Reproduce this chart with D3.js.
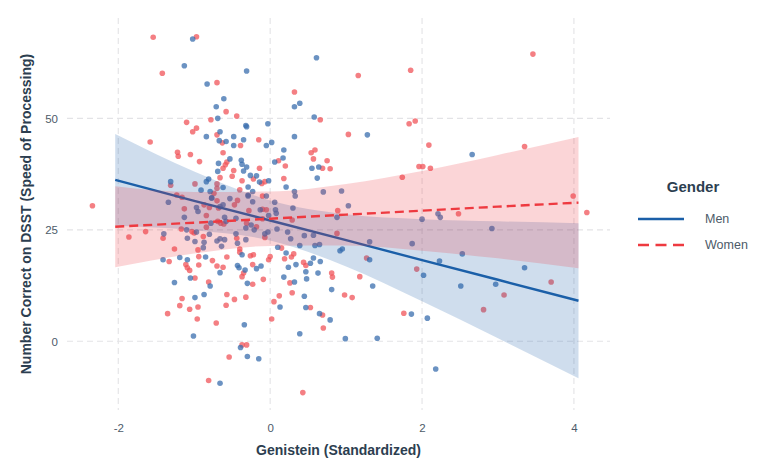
<!DOCTYPE html>
<html><head><meta charset="utf-8">
<script src="https://cdn.jsdelivr.net/npm/d3@7"></script>
<style>
html,body{margin:0;padding:0;background:#fff;}
svg{display:block;font-family:"Liberation Sans",Arial,Helvetica,sans-serif;}
</style></head>
<body><svg id="chart" width="757" height="465"></svg>
<script>
// ---- data ----
const xTicks = [-2, 0, 2, 4];
const yTicks = [0, 25, 50];
const groups = ["Men", "Women"];

const menX = [-1.02,-1.13,-0.31,-0.83,-0.61,-0.71,-0.69,-0.32,-0.31,-0.66,-0.84,-0.48,-0.35,-0.67,-0.58,-0.48,-0.68,-0.53,-0.38,-0.37,-0.31,-0.69,-0.35,-0.26,-0.18,-1.31,-0.84,-0.81,-0.62,-0.91,-0.79,-0.29,-0.23,-0.29,-0.77,-0.53,
 -1.34,-0.97,-0.95,-0.77,-0.66,-0.62,-0.29,-0.23,-0.13,-1.13,-0.60,-0.45,-0.58,-0.78,-0.25,-0.32,-0.21,-1.10,-0.97,-1.40,-1.09,-0.99,-0.80,-0.66,-0.60,-0.70,-0.45,-0.32,-0.87,-0.43,-0.64,-0.88,-0.37,-0.85,-1.41,-1.19,-1.09,-0.66,-0.43,-0.41,-0.33,-0.18,-1.05,-1.26,-0.79,-0.30,-0.99,-0.87,-0.34,-1.01,-0.39,-0.30,-0.15,-0.66,
 0.61,0.32,0.39,0.58,-0.03,1.28,0.32,0.02,-0.05,0.18,0.17,0.06,0.55,0.64,0.62,-0.02,-0.14,0.21,0.32,0.33,0.70,0.94,-0.05,
 0.06,0.07,0.30,1.03,-0.02,0.08,0.88,2.00,2.21,0.09,0.23,-0.07,-0.03,0.27,0.45,0.57,1.31,1.87,0.39,0.59,0.65,0.10,0.92,0.95,1.31,2.02,0.21,0.57,0.66,0.53,0.34,0.24,-0.12,0.47,0.63,0.18,0.48,0.32,1.35,0.81,0.45,0.13,0.47,0.65,0.79,0.39,0.99,1.41,1.86,2.07,2.18,
 2.66,2.24,2.92,2.53,2.51,2.97,3.35,2.23];
const menY = [67.8,61.8,60.6,57.7,54.4,52.6,50.0,48.4,48.1,47.0,45.9,45.9,45.2,45.0,44.8,43.9,39.9,40.9,40.6,39.7,39.1,38.1,38.2,37.2,37.1,35.8,35.8,36.4,34.5,33.9,33.6,34.6,33.6,32.8,32.1,32.0,
 31.2,30.0,29.1,32.2,30.2,30.6,32.6,31.3,29.5,27.8,27.8,27.6,26.9,26.5,26.1,25.4,25.0,25.0,24.5,24.1,23.1,22.4,24.0,23.0,22.8,22.5,24.1,22.8,22.2,22.0,21.3,21.0,19.4,18.9,18.3,18.8,18.3,15.4,17.0,16.5,16.0,16.3,14.2,13.2,12.4,13.0,9.8,10.5,3.7,1.2,-1.4,-3.4,-3.9,-9.4,
 63.6,52.6,53.4,50.3,48.8,46.3,45.9,44.6,43.9,42.9,41.1,40.2,38.8,39.1,36.6,36.0,35.7,34.6,33.6,32.6,33.5,33.7,32.6,
 31.2,29.5,29.9,30.4,28.2,28.7,27.8,27.4,28.6,25.2,24.5,24.1,24.5,23.0,23.7,23.8,22.3,21.9,21.5,21.5,21.7,21.1,20.3,20.7,18.3,14.8,19.8,18.7,17.9,17.5,17.2,16.6,16.9,15.6,15.3,14.4,14.0,13.3,12.4,11.6,10.1,7.7,7.6,6.2,4.8,1.7,0.6,0.7,6.1,5.2,-6.2,
 41.9,27.8,25.3,19.6,12.4,12.8,16.5,18.0];

const womenX = [-1.54,-0.97,-1.42,-0.70,-0.58,-0.44,-0.78,-1.10,-0.97,-1.02,-0.70,-0.63,-1.58,-0.39,-0.15,-1.22,-1.21,-1.05,-0.62,-0.93,-0.57,-0.59,-0.62,-0.48,-0.50,-0.66,-0.22,-0.37,-1.31,-0.99,-0.70,-0.74,-0.70,-0.40,-1.23,-1.16,
 -2.34,-1.13,-0.87,-0.70,-0.80,-0.68,-0.47,-0.43,-0.28,-0.84,-0.69,-0.65,-0.61,-0.84,-0.31,-0.18,-1.17,-1.03,-1.00,-1.64,-1.86,-1.41,-0.88,-0.44,-0.95,-1.26,-0.40,-0.40,-0.26,-0.22,-0.94,-0.57,-1.33,-1.11,-1.09,-1.06,-0.94,-0.76,-0.70,-0.62,-0.35,-0.37,-0.23,-0.99,-0.81,-0.23,-1.16,-0.57,-0.47,-0.32,-1.19,-1.06,-0.95,-0.58,-1.35,-0.96,-0.71,-0.37,-0.31,-0.54,-0.81,0.43,
 1.16,1.85,0.32,0.66,1.83,1.91,1.03,2.09,0.54,0.59,0.57,0.11,0.20,0.75,0.69,0.79,-0.14,1.96,2.01,2.11,1.74,0.18,-0.07,-0.11,-0.10,
 -0.10,-0.05,0.89,0.29,-0.10,-0.07,0.88,0.15,1.27,1.93,0.31,0.28,0.19,0.00,-0.02,0.44,0.47,0.81,0.82,1.18,-0.09,0.26,0.29,0.98,1.08,0.12,0.05,0.53,0.69,0.02,0.70,1.76,
 3.35,3.46,2.48,3.99,4.17,3.08,3.70,2.81];
const womenY = [68.2,68.3,60.1,58.0,51.5,50.5,49.7,49.1,47.8,47.0,46.3,44.5,44.7,43.9,45.2,42.4,41.5,41.9,42.3,40.3,40.2,39.6,38.8,38.3,37.0,36.7,36.4,36.0,35.0,35.3,35.3,33.2,34.3,34.0,32.8,32.3,
 30.4,29.7,30.6,31.5,30.0,29.9,30.6,31.6,29.3,28.2,26.9,26.5,26.3,25.6,26.5,25.7,25.2,24.6,24.3,24.6,23.4,23.1,23.5,23.1,20.5,20.7,20.7,20.0,19.2,19.4,19.0,18.9,17.9,17.2,16.5,15.9,17.1,18.1,16.9,16.6,15.3,14.5,17.2,14.2,13.3,12.8,9.6,10.5,9.4,9.9,8.0,7.2,7.7,8.1,6.2,5.0,4.1,-0.8,-0.8,-3.5,-8.8,-11.5,
 59.6,60.8,55.9,49.7,48.8,49.4,46.4,44.0,42.3,42.9,40.9,40.5,39.3,40.5,38.8,38.7,38.8,39.2,39.2,38.8,36.8,36.5,35.8,35.4,32.6,
 29.6,29.5,29.3,27.2,27.5,23.3,24.2,20.9,18.7,16.2,19.6,18.9,18.5,19.0,18.3,17.7,17.0,15.3,14.4,14.5,13.9,13.1,10.9,10.4,9.8,10.2,8.9,7.6,5.9,5.0,3.0,6.3,
 43.7,64.4,28.6,32.6,28.9,10.4,13.3,7.1];

// fitted lines and 95% bands, read at these x positions
const fitX = [-2.04, -1, 0, 1, 2, 3, 4.06];
const menFit = [36.2, 31.5, 27.1, 22.7, 18.2, 13.8, 9.1];
const menLower = [25.9, 24.9, 22.6, 16.8, 9.0, 0.7, -8.3];
const menUpper = [46.5, 38.1, 31.6, 28.5, 27.4, 26.9, 26.5];
const womenFit = [25.7, 26.6, 27.5, 28.4, 29.3, 30.2, 31.1];
const womenLower = [16.6, 19.7, 21.4, 21.5, 20.3, 18.6, 16.4];
const womenUpper = [34.8, 33.5, 33.6, 35.3, 38.2, 41.8, 45.8];

// ---- drawing ----
const colMen = "#1b5fa8", colWomen = "#ee3a40";
const textDark = "#2c3e50", textTick = "#4d5b69";
const svg = d3.select("#chart");
const panel = {left: 67, right: 610, top: 18, bottom: 410};
const x = d3.scaleLinear().domain([-2.675, 4.475]).range([panel.left, panel.right]);
const y = d3.scaleLinear().domain([-15.4, 72.5]).range([panel.bottom, panel.top]);

// grid
const grid = svg.append("g");
grid.selectAll("line.v").data(xTicks).join("line")
  .attr("x1", d => x(d)).attr("x2", d => x(d))
  .attr("y1", panel.top).attr("y2", panel.bottom)
  .attr("stroke", "#e3e3e6").attr("stroke-width", 1.1).attr("stroke-dasharray", "6,4");
grid.selectAll("line.h").data(yTicks).join("line")
  .attr("y1", d => y(d)).attr("y2", d => y(d))
  .attr("x1", panel.left).attr("x2", panel.right)
  .attr("stroke", "#e3e3e6").attr("stroke-width", 1.1).attr("stroke-dasharray", "6,4");

// axes (labels only)
const xAxis = d3.axisBottom(x).tickValues(xTicks).tickSize(0).tickPadding(0).tickFormat(d => String(d));
const gx = svg.append("g").attr("transform", `translate(0,${panel.bottom + 13})`).call(xAxis);
gx.select(".domain").remove();
gx.selectAll("text").attr("fill", textTick).style("font-size", "11.5px").attr("dy", "0.35em").attr("y", 5);
const yAxis = d3.axisLeft(y).tickValues(yTicks).tickSize(0).tickPadding(0).tickFormat(d => String(d));
const gy = svg.append("g").attr("transform", `translate(${panel.left - 9},0)`).call(yAxis);
gy.select(".domain").remove();
gy.selectAll("text").attr("fill", textTick).style("font-size", "11.5px");

// points
const menPts = menX.map((v, i) => [v, menY[i]]);
const womenPts = womenX.map((v, i) => [v, womenY[i]]);
const pts = svg.append("g");
pts.selectAll("circle.w").data(womenPts).join("circle")
  .attr("cx", d => x(d[0])).attr("cy", d => y(d[1])).attr("r", 2.8)
  .attr("fill", "#f0545a").attr("fill-opacity", 0.75);
pts.selectAll("circle.m").data(menPts).join("circle")
  .attr("cx", d => x(d[0])).attr("cy", d => y(d[1])).attr("r", 2.8)
  .attr("fill", "#3a6ead").attr("fill-opacity", 0.75);

// ribbons & lines
function drawGroup(lo, hi, fit, col, dash) {
  const rows = fitX.map((v, i) => ({x: v, lo: lo[i], hi: hi[i], f: fit[i]}));
  const area = d3.area().x(d => x(d.x)).y0(d => y(d.lo)).y1(d => y(d.hi)).curve(d3.curveMonotoneX);
  svg.append("path").datum(rows).attr("d", area).attr("fill", col).attr("fill-opacity", 0.21);
  const line = d3.line().x(d => x(d.x)).y(d => y(d.f));
  svg.append("path").datum(rows).attr("d", line).attr("fill", "none")
    .attr("stroke", col).attr("stroke-width", 2.4)
    .attr("stroke-dasharray", dash || null);
}
drawGroup(menLower, menUpper, menFit, colMen, null);
drawGroup(womenLower, womenUpper, womenFit, colWomen, "9,5");

// axis titles
svg.append("text").attr("x", (panel.left + panel.right) / 2).attr("y", 455)
  .attr("text-anchor", "middle").attr("fill", textDark)
  .style("font-size", "14px").style("font-weight", "bold").text("Genistein (Standardized)");
svg.append("text").attr("transform", `translate(26,${(panel.top + panel.bottom) / 2}) rotate(-90)`)
  .attr("text-anchor", "middle").attr("dy", "0.35em").attr("fill", textDark)
  .style("font-size", "14px").style("font-weight", "bold")
  .text("Number Correct on DSST (Speed of Processing)");

// legend
const lg = svg.append("g");
lg.append("text").attr("x", 693).attr("y", 192).attr("text-anchor", "middle")
  .attr("fill", textDark).style("font-size", "15px").style("font-weight", "bold").text("Gender");
const legendItems = [{name: groups[0], col: colMen, dash: null, yy: 219},
                     {name: groups[1], col: colWomen, dash: "11,6.5", yy: 245}];
legendItems.forEach(it => {
  lg.append("line").attr("x1", 638).attr("x2", 684).attr("y1", it.yy).attr("y2", it.yy)
    .attr("stroke", it.col).attr("stroke-width", 2.4).attr("stroke-dasharray", it.dash);
  lg.append("text").attr("x", 705).attr("y", it.yy).attr("dy", "0.35em")
    .attr("fill", textTick).style("font-size", "12.5px").text(it.name);
});
</script></body></html>
